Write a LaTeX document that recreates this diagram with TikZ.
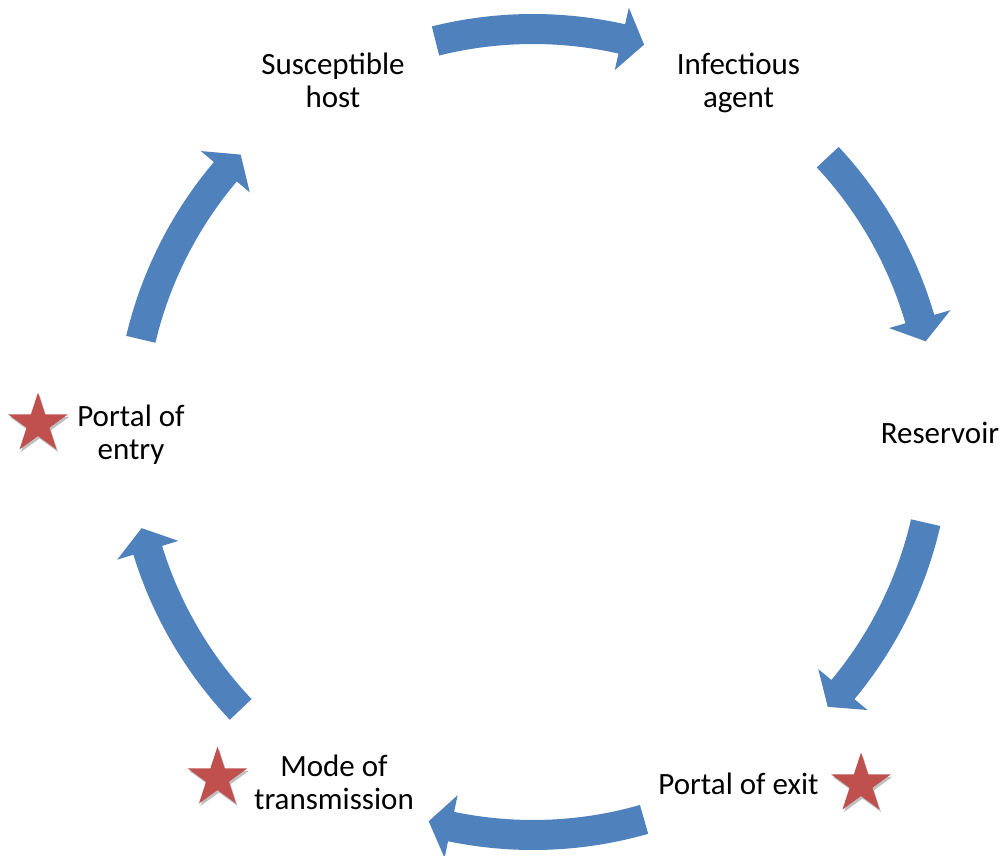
\documentclass[tikz,border=0pt]{standalone}
\usepackage{fontspec}
\setmainfont{Carlito}
\usetikzlibrary{shapes.geometric,shadows}
\definecolor{arrowblue}{HTML}{4F81BD}
\definecolor{starred}{HTML}{C0504D}
\newcommand\cycarrow[2]{%
  \fill[arrowfill] ({#1}:418) arc[start angle=#1, end angle=#2+3.27, radius=418pt]
    -- ({#2+3.27}:435) -- ({#2}:403) -- ({#2+3.27}:371) -- ({#2+3.27}:388)
    arc[start angle=#2+3.27, end angle=#1, radius=388pt] -- cycle;}
\begin{document}
\begin{tikzpicture}[x=1pt,y=1pt,
  arrowfill/.style={fill=arrowblue},
  label/.style={anchor=base, align=center, inner sep=0pt, font=\fontsize{31}{33}\selectfont},
  redstar/.style={star, star points=5, star point ratio=2.618, minimum size=63pt, inner sep=0pt,
    fill=starred, draw=none, drop shadow={shadow xshift=1.5pt, shadow yshift=-2.5pt, opacity=0.25, fill=black}}]
\useasboundingbox[fill=white] (-533,-423) rectangle (471,432);
% block arrows of the cycle
\cycarrow{104}{74}
\cycarrow{43}{13}
\cycarrow{-13}{-43}
\cycarrow{-74}{-105}
\cycarrow{223.5}{193.8}
\cycarrow{166.7}{136.5}
% labels (base anchor = baseline of the last line)
\node[label] (host) at (-200,324) {Susceptible\\host};
\node[label] (agent) at (205.5,324) {Infectious\\agent};
\node[label] (res) at (407,-11.3) {Reservoir};
\node[label] (exit) at (205.5,-362) {Portal of exit};
\node[label] (mode) at (-199,-377) {Mode of\\transmission};
\node[label] (entry) at (-402,-27.7) {Portal of\\entry};
% stars
\node[redstar] (s1) at (-495,8) {};
\node[redstar] (s2) at (328,-352) {};
\node[redstar] (s3) at (-315.5,-346) {};
\end{tikzpicture}
\end{document}
